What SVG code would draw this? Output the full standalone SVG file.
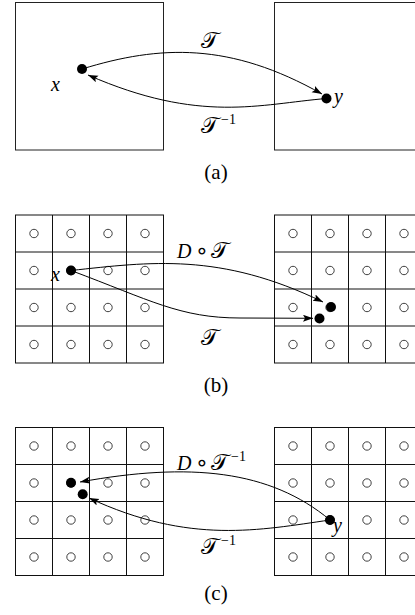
<svg xmlns="http://www.w3.org/2000/svg" width="415" height="615" viewBox="0 0 415 615">
<style>
.box{fill:none;stroke:#222;stroke-width:1}
.grid{fill:none;stroke:#111;stroke-width:1}
.c{fill:none;stroke:#111;stroke-width:0.8}
.dot{fill:#000}
.edge{fill:none;stroke:#000;stroke-width:1}
.m{font-family:"Liberation Serif",serif;font-style:italic;font-size:20px;fill:#000}
.cal{font-family:"DejaVu Serif","DejaVu Sans",serif;font-style:normal;font-size:23px;fill:#000}
.op{font-family:"DejaVu Sans",sans-serif;font-style:normal;font-size:22px;fill:#000}
.sup{font-family:"Liberation Serif",serif;font-style:normal;font-size:14px}
.cap{font-family:"Liberation Serif",serif;font-size:21px;fill:#000;text-anchor:middle}
</style>
<defs>
<marker id="ah" markerUnits="userSpaceOnUse" markerWidth="11" markerHeight="8" refX="10" refY="3.5" orient="auto">
<path d="M0,0 L10,3.5 L0,7 L2,3.5 z" fill="#000"/>
</marker>
<circle id="oc" r="4.2" class="c"/>
<g id="gridlines">
<rect x="0" y="0" width="148" height="148" class="grid"/>
<path d="M37,0V148M74,0V148M111,0V148M0,37H148M0,74H148M0,111H148" class="grid"/>
<use href="#oc" x="18.5" y="18.5"/><use href="#oc" x="55.5" y="18.5"/><use href="#oc" x="92.5" y="18.5"/><use href="#oc" x="129.5" y="18.5"/>
<use href="#oc" x="18.5" y="55.5"/><use href="#oc" x="55.5" y="55.5"/><use href="#oc" x="92.5" y="55.5"/><use href="#oc" x="129.5" y="55.5"/>
<use href="#oc" x="18.5" y="92.5"/><use href="#oc" x="55.5" y="92.5"/><use href="#oc" x="92.5" y="92.5"/><use href="#oc" x="129.5" y="92.5"/>
<use href="#oc" x="18.5" y="129.5"/><use href="#oc" x="55.5" y="129.5"/><use href="#oc" x="92.5" y="129.5"/><use href="#oc" x="129.5" y="129.5"/>
</g>
</defs>

<!-- Panel (a) -->
<g id="a-left-box"><rect x="15.5" y="2.5" width="148" height="147.5" class="box"/></g>
<g id="a-right-box"><rect x="274.5" y="2.5" width="148" height="147.5" class="box"/></g>
<g id="a-x"><circle cx="82" cy="69" r="5" class="dot"/><text x="51" y="91" class="m">x</text></g>
<g id="a-y"><circle cx="326.5" cy="98.5" r="5" class="dot"/><text x="334" y="103" class="m">y</text></g>
<g id="a-edges">
<path d="M82,69 C160,45 230,42 322,94" class="edge" marker-end="url(#ah)"/>
<path d="M326.5,98.5 C260,104 200,124 88,75" class="edge" marker-end="url(#ah)"/>
</g>
<text x="201" y="48" class="cal">𝒯</text>
<text x="201" y="133" class="cal">𝒯<tspan class="sup" dx="2" dy="-9">−1</tspan></text>
<text x="216" y="179" class="cap">(a)</text>

<!-- Panel (b) -->
<g id="b-left-grid"><use href="#gridlines" x="15.5" y="215"/></g>
<g id="b-right-grid"><use href="#gridlines" x="274.5" y="215"/></g>
<g id="b-x"><text x="51" y="281" class="m">x</text><circle cx="71" cy="270.5" r="5" class="dot"/></g>
<g id="b-dt"><circle cx="331" cy="307" r="5" class="dot"/></g>
<g id="b-t"><circle cx="319.5" cy="318.5" r="5" class="dot"/></g>
<g id="b-edges">
<path d="M71,270.5 C150,262 220,252 323,302" class="edge" marker-end="url(#ah)"/>
<path d="M71,270.5 C150,300 180,318 240,318 L313,318.3" class="edge" marker-end="url(#ah)"/>
</g>
<text x="177" y="258" class="m">D<tspan class="op" x="195">∘</tspan><tspan class="cal" x="211">𝒯</tspan></text>
<text x="201" y="345" class="cal">𝒯</text>
<text x="216" y="392" class="cap">(b)</text>

<!-- Panel (c) -->
<g id="c-left-grid"><use href="#gridlines" x="15.5" y="427.5"/></g>
<g id="c-right-grid"><use href="#gridlines" x="274.5" y="427.5"/></g>
<g id="c-d"><circle cx="71" cy="482.7" r="5" class="dot"/></g>
<g id="c-t"><circle cx="82.7" cy="494.3" r="5" class="dot"/></g>
<g id="c-y"><circle cx="330" cy="520" r="5" class="dot"/><text x="333" y="532" class="m">y</text></g>
<g id="c-edges">
<path d="M330,520 C270,470 190,462 80,482" class="edge" marker-end="url(#ah)"/>
<path d="M330,520 C260,530 190,545 89,498" class="edge" marker-end="url(#ah)"/>
</g>
<text x="177" y="470" class="m">D<tspan class="op" x="195">∘</tspan><tspan class="cal" x="211">𝒯</tspan><tspan class="sup" dx="2" dy="-9">−1</tspan></text>
<text x="201" y="554" class="cal">𝒯<tspan class="sup" dx="2" dy="-9">−1</tspan></text>
<text x="216" y="600" class="cap">(c)</text>
</svg>
